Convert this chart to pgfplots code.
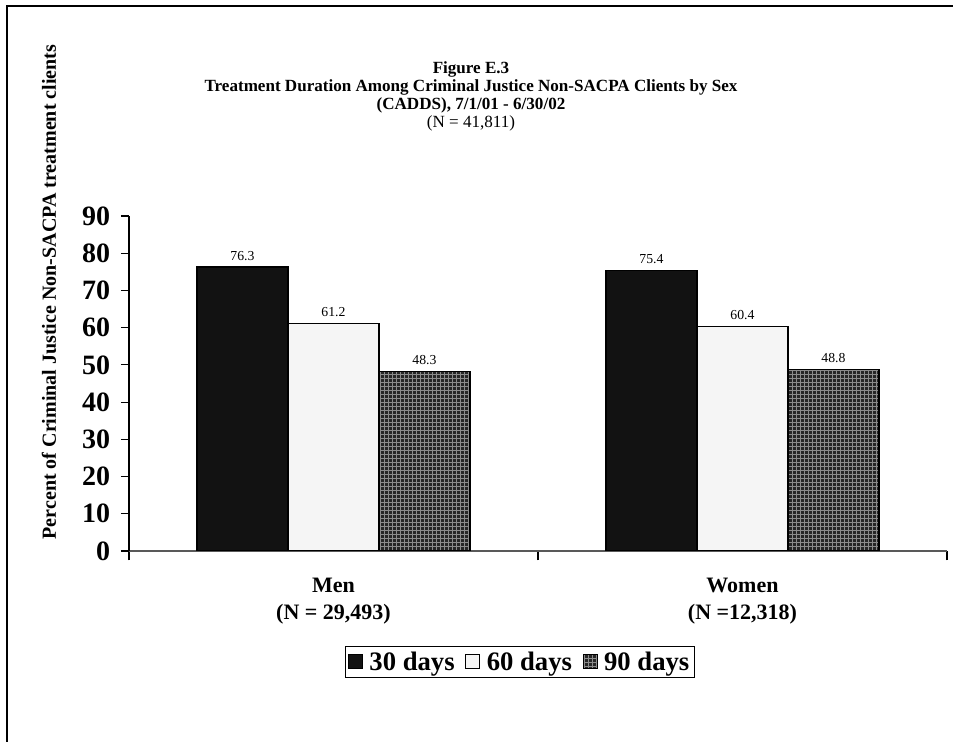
\documentclass[border=0pt]{standalone}
\usepackage{fontspec}
\setmainfont{Liberation Serif}
\usepackage{pgfplots}
\pgfplotsset{compat=1.18}
\usetikzlibrary{patterns}
\begin{document}
\begin{tikzpicture}
\path[use as bounding box] (-96.75pt,-143.25pt) rectangle (618pt,413.25pt);
\draw[line width=1.5pt] (-91.5pt,-160pt) -- (-91.5pt,408.75pt) -- (640pt,408.75pt);
\node[align=center, font=\bfseries\fontsize{12.8}{13.6}\selectfont] at (256.5pt,341pt)
  {Figure E.3\\Treatment Duration Among Criminal Justice Non-SACPA Clients by Sex\\(CADDS), 7/1/01 - 6/30/02\\{\mdseries (N = 41,811)}};
\begin{axis}[
  at={(0pt,0pt)}, anchor=south west,
  scale only axis, width=613.5pt, height=251.25pt,
  xmin=-0.5, xmax=1.5, ymin=0, ymax=90,
  ybar=0pt, bar width=0.2225,
  axis x line*=bottom, axis y line*=left,
  x axis line style={black!65, line width=1.2pt},
  y axis line style={black, line width=0.8pt},
  tick align=outside,
  major tick length=6pt, minor tick length=7pt,
  ytick={0,10,...,90},
  xtick={0,1},
  xticklabels={{Men\\(N = 29,493)},{Women\\(N =12,318)}},
  minor xtick={-0.5,0.5,1.5},
  every tick/.style={black, line width=0.8pt},
  every major x tick/.append style={draw=none},
  /pgf/number format/assume math mode=true,
  yticklabel style={font=\bfseries\fontsize{21}{24}\selectfont, inner sep=0pt, xshift=-8pt},
  xticklabel style={align=center, font=\bfseries\fontsize{16.5}{20}\selectfont, yshift=-11pt},
  ylabel={Percent of Criminal Justice Non-SACPA treatment clients},
  every axis y label/.style={at={(axis description cs:-0.0978,0.773)}, rotate=90, anchor=center, font=\bfseries\fontsize{15}{18}\selectfont},
  nodes near coords,
  nodes near coords style={font=\fontsize{10.3}{12}\selectfont, black, yshift=1pt},
  legend columns=3,
  legend style={at={(0.478,-0.3313)}, anchor=center, draw=black, line width=1pt,
    font=\bfseries\fontsize{20}{24}\selectfont, inner sep=2pt,
    /tikz/every odd column/.append style={column sep=3pt},
    /tikz/every even column/.append style={column sep=6pt}},
  legend image code/.code={\draw[#1, line width=0.6pt] (0pt,-5pt) rectangle (10.5pt,5.5pt);},
]
\addplot[draw=black, line width=1pt, fill=black!93] coordinates {(0,76.3) (1,75.4)};
\addplot[draw=black, line width=1pt, fill=black!4] coordinates {(0,61.2) (1,60.4)};
\addplot[draw=black, line width=1pt, fill=black!85, postaction={pattern=grid, pattern color=black!45}] coordinates {(0,48.3) (1,48.8)};
\legend{30 days, 60 days, 90 days}
\end{axis}
\end{tikzpicture}
\end{document}
